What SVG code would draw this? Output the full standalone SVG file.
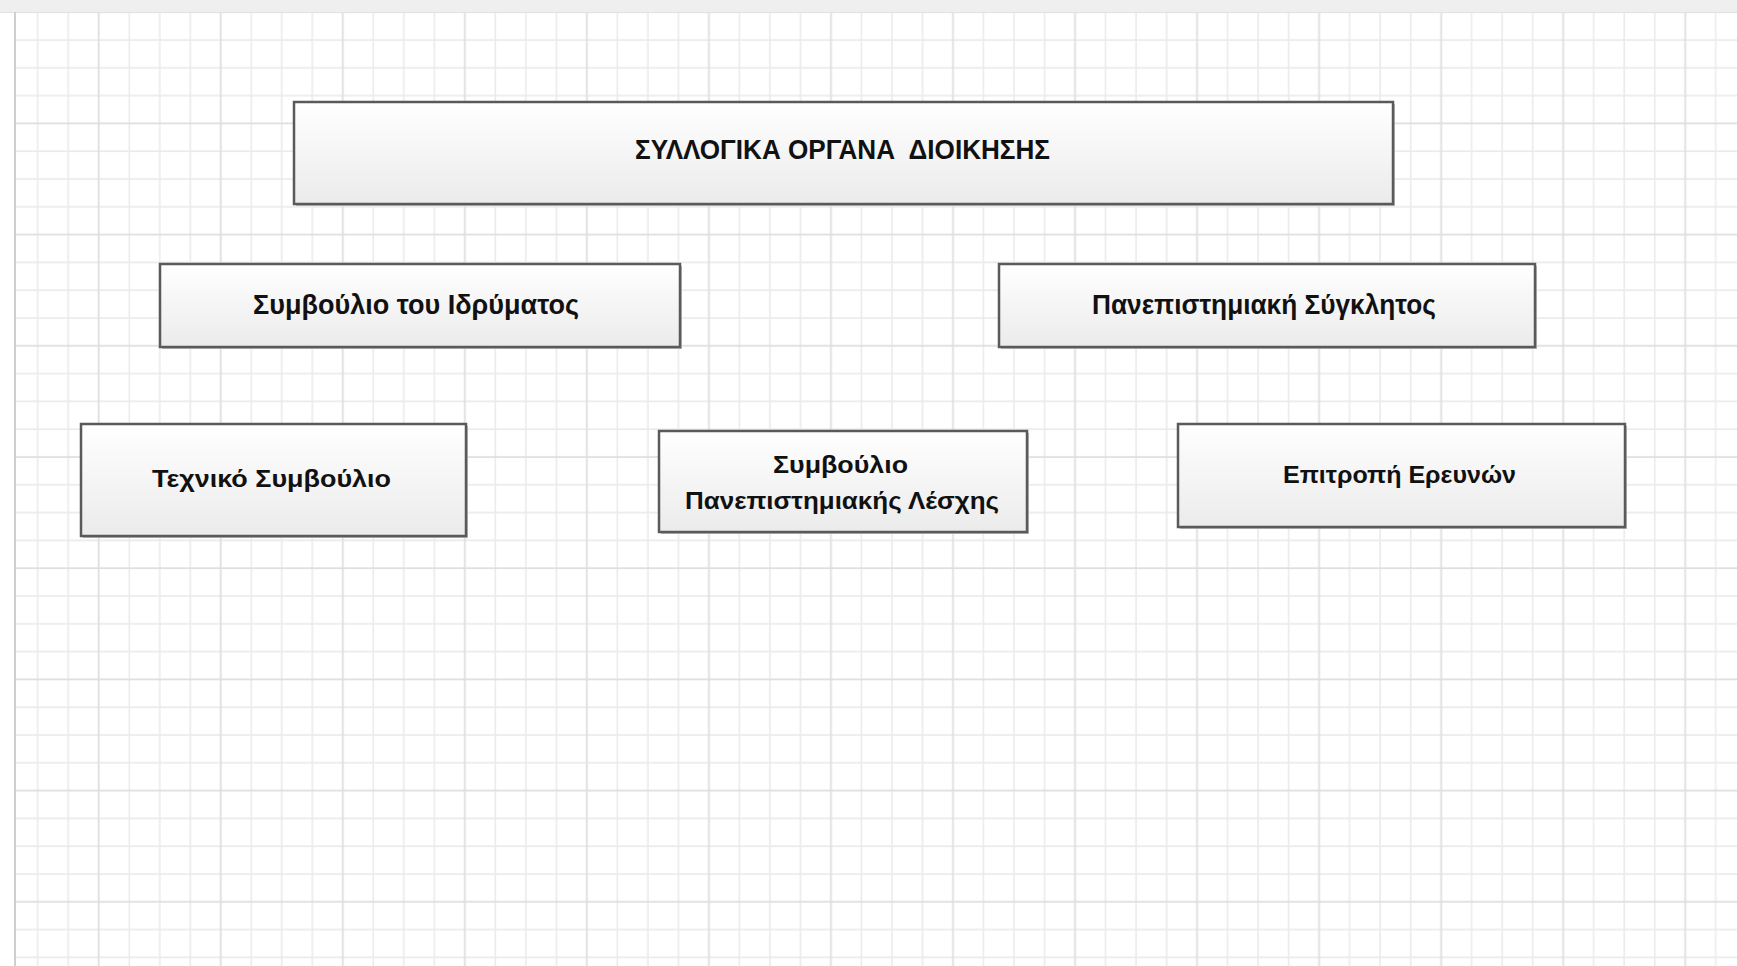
<svg xmlns="http://www.w3.org/2000/svg" width="1737" height="966" viewBox="0 0 1737 966">
  <defs>
    <pattern id="grid" patternUnits="userSpaceOnUse" x="22.7" y="26" width="122.04" height="111.2">
      <g stroke="#ebebeb" stroke-width="1.6" fill="none">
        <line x1="15" y1="0" x2="15" y2="111.2"/>
        <line x1="45.51" y1="0" x2="45.51" y2="111.2"/>
        <line x1="106.53" y1="0" x2="106.53" y2="111.2"/>
        <line x1="0" y1="14" x2="122.04" y2="14"/>
        <line x1="0" y1="41.8" x2="122.04" y2="41.8"/>
        <line x1="0" y1="69.6" x2="122.04" y2="69.6"/>
      </g>
      <g stroke="#dedede" stroke-width="1.8" fill="none">
        <line x1="76.02" y1="0" x2="76.02" y2="111.2"/>
        <line x1="0" y1="97.4" x2="122.04" y2="97.4"/>
      </g>
    </pattern>
    <linearGradient id="boxfill" x1="0" y1="0" x2="0" y2="1">
      <stop offset="0" stop-color="#ffffff"/>
      <stop offset="1" stop-color="#ebebeb"/>
    </linearGradient>
  </defs>
  <style>
    .shadow { fill: #bdbdbd; }
    .box { fill: url(#boxfill); stroke: #5a5a5a; stroke-width: 2.5; }
    .lbl { font-family: "Liberation Sans", Arial, "DejaVu Sans", sans-serif; font-weight: bold; fill: #111111; white-space: pre; }
    .big { font-size: 27px; }
    .small { font-size: 24px; }
  </style>

  <rect x="0" y="0" width="1737" height="966" fill="#ffffff"/>
  <rect x="15" y="12" width="1722" height="954" fill="url(#grid)"/>
  <rect x="0" y="0" width="1737" height="12" fill="#efefef"/>
  <line x1="0" y1="12.5" x2="1737" y2="12.5" stroke="#e2e2e2" stroke-width="1"/>
  <line x1="15" y1="12" x2="15" y2="966" stroke="#cfcfcf" stroke-width="2"/>

  <g id="connectors"></g>

  <g id="node-syllogika">
    <rect class="shadow" x="296" y="104" width="1099" height="102"/>
    <rect class="box" x="294" y="102" width="1099" height="102"/>
    <text class="lbl big" x="635" y="159" textLength="415" lengthAdjust="spacingAndGlyphs" xml:space="preserve">ΣΥΛΛΟΓΙΚΑ ΟΡΓΑΝΑ  ΔΙΟΙΚΗΣΗΣ</text>
  </g>

  <g id="node-symvoulio-idrymatos">
    <rect class="shadow" x="162" y="266" width="520" height="83"/>
    <rect class="box" x="160" y="264" width="520" height="83"/>
    <text class="lbl big" x="253" y="314" textLength="326" lengthAdjust="spacingAndGlyphs">Συμβούλιο του Ιδρύματος</text>
  </g>

  <g id="node-synklitos">
    <rect class="shadow" x="1001" y="266" width="536" height="83"/>
    <rect class="box" x="999" y="264" width="536" height="83"/>
    <text class="lbl big" x="1092" y="314" textLength="344" lengthAdjust="spacingAndGlyphs">Πανεπιστημιακή Σύγκλητος</text>
  </g>

  <g id="node-techniko">
    <rect class="shadow" x="83" y="426" width="385" height="112"/>
    <rect class="box" x="81" y="424" width="385" height="112"/>
    <text class="lbl small" x="152" y="487" textLength="239" lengthAdjust="spacingAndGlyphs">Τεχνικό Συμβούλιο</text>
  </g>

  <g id="node-leschi">
    <rect class="shadow" x="661" y="433" width="368" height="101"/>
    <rect class="box" x="659" y="431" width="368" height="101"/>
    <text class="lbl small" x="773" y="473" textLength="135" lengthAdjust="spacingAndGlyphs">Συμβούλιο</text>
    <text class="lbl small" x="685" y="509" textLength="314" lengthAdjust="spacingAndGlyphs">Πανεπιστημιακής Λέσχης</text>
  </g>

  <g id="node-erevnon">
    <rect class="shadow" x="1180" y="426" width="447" height="103"/>
    <rect class="box" x="1178" y="424" width="447" height="103"/>
    <text class="lbl small" x="1283" y="483" textLength="233" lengthAdjust="spacingAndGlyphs">Επιτροπή Ερευνών</text>
  </g>
</svg>
